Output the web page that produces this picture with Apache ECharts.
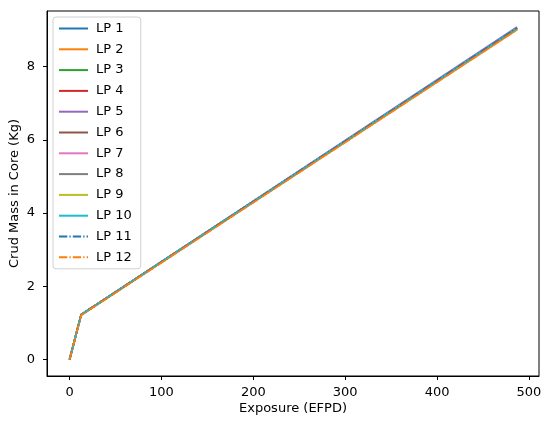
<!DOCTYPE html>
<html>
<head>
<meta charset="utf-8">
<script src="https://cdn.jsdelivr.net/npm/echarts@6/dist/echarts.min.js"></script>
<style>
  html, body { margin: 0; padding: 0; background: #fff; }
  #chart { width: 550px; height: 426px; }
</style>
</head>
<body>
<div id="chart"></div>
<script>
// 曝光时间 (EFPD)
const exposure = [0, 12.5, 487];
const lpNames = ['LP 1', 'LP 2', 'LP 3', 'LP 4', 'LP 5', 'LP 6', 'LP 7', 'LP 8', 'LP 9', 'LP 10', 'LP 11', 'LP 12'];
// 各方案堆芯 crud 质量 (Kg)
const lp1 = [0, 1.22, 9.05];
const lp2 = [0, 1.21, 9.01];
const lp3 = [0, 1.22, 9.05];
const lp4 = [0, 1.22, 9.05];
const lp5 = [0, 1.22, 9.08];
const lp6 = [0, 1.22, 9.05];
const lp7 = [0, 1.22, 9.05];
const lp8 = [0, 1.22, 9.05];
const lp9 = [0, 1.22, 9.04];
const lp10 = [0, 1.22, 9.05];
const lp11 = [0, 1.22, 9.05];
const lp12 = [0, 1.21, 9.01];
const xTicks = [0, 100, 200, 300, 400, 500];
const yTicks = [0, 2, 4, 6, 8];

const lpValues = [lp1, lp2, lp3, lp4, lp5, lp6, lp7, lp8, lp9, lp10, lp11, lp12];
const colors = ['#1f77b4', '#ff7f0e', '#2ca02c', '#d62728', '#9467bd', '#8c564b',
  '#e377c2', '#7f7f7f', '#bcbd22', '#17becf', '#1f77b4', '#ff7f0e'];
const dashDot = [8.3, 2.1, 1.3, 2.1];

const chart = echarts.init(document.getElementById('chart'));
const font = 'DejaVu Sans';
const fs = 13;

chart.setOption({
  animation: false,
  textStyle: { fontFamily: font },
  grid: {
    left: 47,
    right: 11,
    top: 11,
    bottom: 50,
    containLabel: false,
    outerBoundsMode: 'none',
    show: true,
    borderColor: '#000',
    borderWidth: 1,
    backgroundColor: 'transparent'
  },
  legend: {
    orient: 'vertical',
    left: 53,
    top: 17,
    padding: [5, 9, 5, 5],
    itemWidth: 29,
    itemHeight: 12,
    itemGap: 7.8,
    backgroundColor: 'rgba(255,255,255,0.8)',
    borderColor: '#d0d0d0',
    borderWidth: 1,
    borderRadius: 3,
    itemStyle: { opacity: 0 },
    textStyle: { fontSize: fs, color: '#000', fontFamily: font, padding: [0, 0, 0, 3] },
    data: lpNames
  },
  xAxis: {
    type: 'value',
    min: -24.6,
    max: 510.9,
    name: 'Exposure (EFPD)',
    nameLocation: 'middle',
    nameGap: 26,
    nameMoveOverlap: false,
    nameTextStyle: { fontSize: fs, color: '#000', fontFamily: font },
    axisLine: { show: true, onZero: false, lineStyle: { color: '#000', width: 1 } },
    axisTick: { show: true, length: 4, customValues: xTicks, lineStyle: { color: '#000' } },
    axisLabel: { fontSize: fs, color: '#000', margin: 10, customValues: xTicks, fontFamily: font },
    splitLine: { show: false }
  },
  yAxis: {
    type: 'value',
    min: -0.45,
    max: 9.52,
    name: 'Crud Mass in Core (Kg)',
    nameLocation: 'middle',
    nameGap: 26,
    nameMoveOverlap: false,
    nameTextStyle: { fontSize: fs, color: '#000', fontFamily: font },
    axisLine: { show: true, onZero: false, lineStyle: { color: '#000', width: 1 } },
    axisTick: { show: true, length: 4, customValues: yTicks, lineStyle: { color: '#000' } },
    axisLabel: { fontSize: fs, color: '#000', margin: 12, customValues: yTicks, fontFamily: font },
    splitLine: { show: false }
  },
  series: lpNames.map((name, i) => ({
    name: name,
    type: 'line',
    symbol: 'none',
    color: colors[i],
    lineStyle: { color: colors[i], width: 1.8, type: i >= 10 ? dashDot : 'solid' },
    data: exposure.map((x, j) => [x, lpValues[i][j]])
  }))
});
</script>
</body>
</html>
